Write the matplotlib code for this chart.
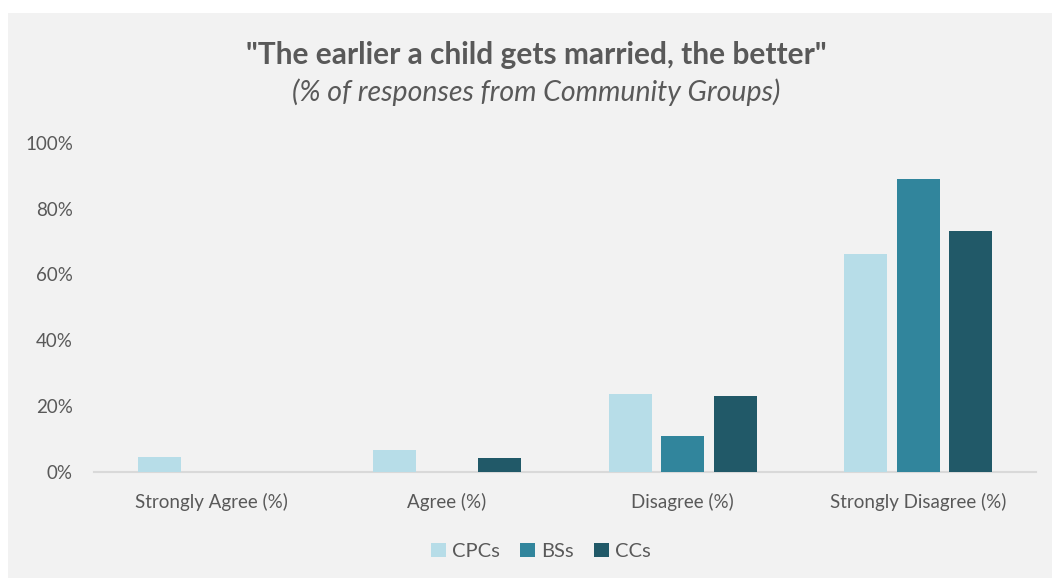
import numpy as np
import matplotlib
matplotlib.use('Agg')
import matplotlib.pyplot as plt
from matplotlib.patches import Rectangle
from matplotlib.ticker import PercentFormatter

plt.rcParams['font.family'] = ['Lato', 'DejaVu Sans']

# Survey responses by community group (%)
categories = ['Strongly Agree (%)', 'Agree (%)', 'Disagree (%)', 'Strongly Disagree (%)']
groups = ['CPCs', 'BSs', 'CCs']
cpcs = [4.4, 6.5, 23.5, 66.3]
bss = [0.0, 0.0, 10.9, 89.1]
ccs = [0.0, 4.3, 23.0, 73.2]
colors = ['#b7dde8', '#31859c', '#215968']

text_color = '#595959'
panel_color = '#f2f2f2'

fig = plt.figure(figsize=(10.52, 5.78), dpi=100, facecolor='white')
fig.patches.append(Rectangle((8 / 1052, 0), 1044 / 1052, 565 / 578,
                             transform=fig.transFigure, facecolor=panel_color,
                             edgecolor='none', zorder=-1))

ax = fig.add_axes([0.0891, 0.1839, 0.8957, 0.5692])
ax.set_facecolor('none')
ax.set_zorder(1)

x = np.arange(len(categories))
width = 0.1825
step = 0.2224
for i, (vals, name, c) in enumerate(zip([cpcs, bss, ccs], groups, colors)):
    ax.bar(x + (i - 1) * step, vals, width=width, color=c, label=name, zorder=3)

ax.set_xlim(-0.5, len(categories) - 0.5)
ax.set_ylim(0, 100)
ax.set_yticks(np.arange(0, 101, 20))
ax.yaxis.set_major_formatter(PercentFormatter(decimals=0))
ax.set_xticks(x)
ax.set_xticklabels(categories)

for side in ['top', 'right', 'left']:
    ax.spines[side].set_visible(False)
ax.spines['bottom'].set_color('#d9d9d9')
ax.spines['bottom'].set_linewidth(1.5)
ax.tick_params(axis='both', length=0, labelsize=13.5, colors=text_color)
ax.tick_params(axis='y', pad=15)
ax.tick_params(axis='x', pad=15)

fig.text(0.510, 0.905, '"The earlier a child gets married, the better"',
         ha='center', va='center', fontsize=21.5, fontweight='bold', color=text_color)
fig.text(0.510, 0.841, '(% of responses from Community Groups)',
         ha='center', va='center', fontsize=20.5, style='italic', color=text_color)

leg = fig.legend(loc='center', bbox_to_anchor=(0.514, 0.046), ncol=3, frameon=False,
                 fontsize=14.5, handlelength=0.75, handleheight=0.75,
                 handletextpad=0.3, columnspacing=1.0)
for t in leg.get_texts():
    t.set_color(text_color)

fig.savefig('out.png', dpi=100, facecolor=fig.get_facecolor())
